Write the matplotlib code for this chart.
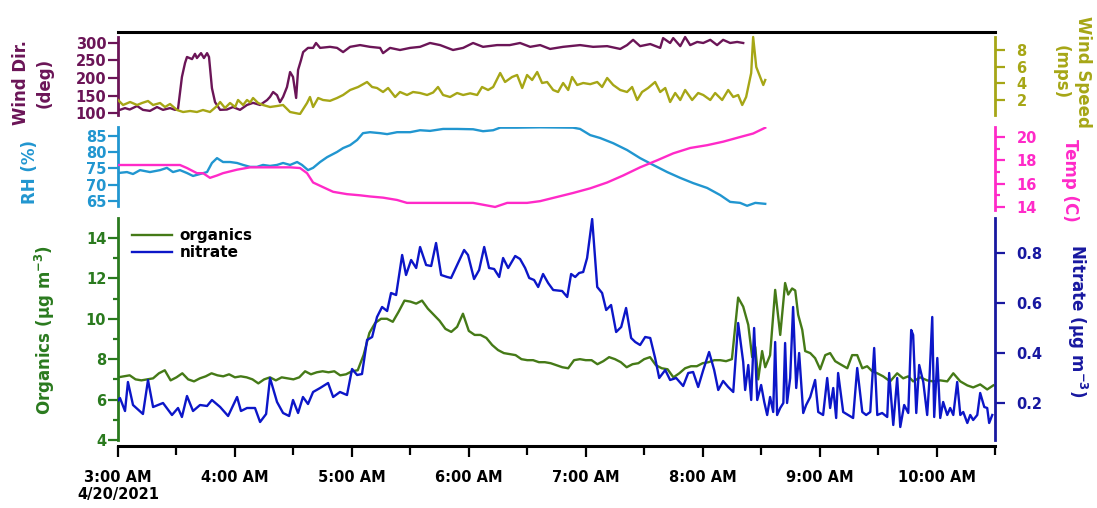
import numpy as np
import matplotlib
matplotlib.use('Agg')
import matplotlib.pyplot as plt
from matplotlib.ticker import MultipleLocator, FixedLocator

plt.rcParams['font.family'] = ['DejaVu Sans']
plt.rcParams['font.weight'] = 'bold'
plt.rcParams['mathtext.default'] = 'bf'

#######################
# data, time in minutes after 3:00 AM on 4/20/2021
#######################

# wind direction (deg)
wind_dir = [(0, 110), (1, 109), (3.6, 114), (6, 110), (9.8, 120), (12.8, 109), (16.4, 106), (20, 117),
            (23.1, 109), (26.7, 114), (29.3, 109), (30.8, 112), (32.8, 203), (34.4, 243), (35.4, 260),
            (38, 254), (39.5, 269), (40.5, 257), (42.6, 271), (44.1, 257), (45.7, 271), (46.7, 260),
            (48.2, 171), (49.8, 131), (52.4, 109), (55.9, 110), (59, 117), (62.6, 109), (66.2, 123),
            (69.3, 129), (72.9, 123), (76.5, 137), (78, 146), (79.6, 160), (81.6, 151), (83.1, 131),
            (84.7, 146), (86.7, 174), (88.3, 217), (89.8, 203), (91.4, 143), (92.4, 223), (93.9, 251),
            (95, 274), (97.5, 286), (100.1, 286), (101.6, 300), (103.7, 286), (108.8, 289), (112.4, 286),
            (115.5, 274), (119.1, 289), (124.2, 294), (129.3, 289), (134.5, 286), (136, 271), (139.6, 286),
            (144.7, 280), (149.9, 286), (155, 289), (160.1, 300), (165.3, 294), (171.9, 280), (177.1, 286),
            (182.2, 300), (187.3, 289), (194.5, 294), (201, 294), (206.3, 300), (211.5, 289), (216.6, 294),
            (221.7, 283), (228.4, 289), (237.1, 294), (243.8, 289), (251, 291), (257.7, 283), (261.2, 294),
            (264.3, 309), (267.9, 291), (273.1, 297), (278.2, 286), (279.7, 314), (283.3, 300), (284.9, 314),
            (288.5, 291), (291, 317), (293.6, 294), (297.2, 303), (300.3, 300), (303.9, 309), (307.4, 294),
            (310.5, 309), (314.1, 300), (317.7, 303), (320.8, 300)]

# wind speed (mps)
wind_spd = [(0, 2.0), (2.6, 1.4), (6.2, 1.76), (9.8, 1.4), (12.3, 1.64), (15.4, 1.88), (18, 1.4), (21.6, 1.64),
            (24.1, 1.16), (26.7, 1.52), (30.3, 0.8), (33.4, 0.56), (37, 0.68), (40.5, 0.56), (43.6, 0.8),
            (47.2, 0.56), (50.8, 1.28), (52.4, 1.76), (54.9, 1.04), (57.5, 1.64), (60.1, 1.16), (61.6, 2.0),
            (64.2, 1.4), (66.2, 2.0), (67.8, 1.7), (69.3, 2.24), (71.9, 1.64), (74.4, 1.4), (78, 1.16),
            (81.6, 1.28), (84.7, 1.4), (88.3, 0.56), (93.4, 0.32), (97, 1.64), (98.5, 2.36), (100.1, 1.16),
            (102.7, 2.24), (105.2, 2.0), (108.8, 1.9), (112.4, 2.24), (115.5, 2.6), (119.1, 3.2), (123.2, 3.56),
            (127.8, 4.16), (130.4, 3.56), (132.9, 3.44), (136, 2.96), (138.6, 3.44), (142.2, 2.36), (144.7, 2.96),
            (148.3, 2.6), (151.4, 2.96), (155, 2.84), (158.6, 2.6), (161.7, 2.9), (164.2, 3.56), (166.8, 2.6),
            (170.4, 2.36), (174, 2.84), (177.1, 2.6), (180.7, 2.8), (184.3, 2.6), (186.8, 3.56), (189.9, 3.2),
            (192.5, 3.56), (196.1, 5.24), (198.6, 4.16), (202.2, 4.76), (204.8, 5.0), (207.4, 3.44), (209.9, 5.0),
            (212.5, 4.4), (215.1, 5.36), (217.6, 4.04), (220.2, 4.16), (223.3, 3.2), (225.8, 2.96), (228.4, 4.04),
            (231, 3.2), (233, 4.76), (235.6, 3.8), (238.7, 4.04), (242.3, 3.9), (245.9, 4.16), (248.4, 3.56),
            (251, 4.64), (254.1, 3.8), (257.7, 3.2), (261.2, 2.96), (263.8, 3.56), (266.4, 2.0), (268.9, 2.96),
            (272, 3.44), (275.6, 4.16), (278.2, 2.96), (280.8, 3.44), (283.3, 1.76), (285.9, 2.84), (288.5, 2.0),
            (291, 3.2), (294.6, 2.0), (297.7, 2.84), (300.3, 2.6), (303.9, 2.0), (306.4, 2.84), (310, 2.0),
            (313.1, 3.2), (315.7, 2.36), (318.2, 2.6), (320.3, 1.4), (322.3, 2.36), (324.9, 5.24), (325.9, 9.56),
            (327.5, 5.96), (329.5, 4.76), (331.1, 3.8), (332.1, 4.4)]

# relative humidity (%)
rh = [(0, 73.6), (4.6, 73.9), (7.7, 73.3), (11.3, 74.5), (16.4, 73.9), (21.6, 74.5), (25.1, 75.2), (28.2, 73.9),
      (31.8, 74.5), (35.4, 73.6), (38.5, 72.7), (42.1, 73.3), (45.7, 73.9), (48.2, 76.7), (50.8, 78.2),
      (53.9, 77.0), (57.5, 77.0), (61.1, 76.7), (64.2, 76.1), (67.8, 75.5), (71.3, 75.5), (74.4, 76.1),
      (78, 75.8), (81.6, 76.1), (84.7, 76.7), (88.3, 76.1), (91.9, 77.0), (94.4, 76.1), (97.5, 74.5),
      (100.1, 75.2), (103.7, 77.0), (107.3, 78.5), (112.4, 80.1), (115.5, 81.3), (119.1, 82.2), (122.7, 83.8),
      (125.7, 85.9), (129.3, 86.2), (134.5, 85.9), (138.1, 85.6), (143.2, 86.2), (149.9, 86.2), (155, 86.8),
      (160.1, 86.6), (166.8, 87.2), (174, 87.2), (182.2, 87.1), (187.3, 86.5), (192.5, 86.8), (196.1, 87.6),
      (204.8, 87.6), (216.6, 87.7), (233.5, 87.6), (237.1, 87.2), (242.3, 85.3), (247.4, 84.4), (254.1, 82.8),
      (261.2, 80.7), (267.9, 78.2), (274.6, 76.1), (281.8, 73.9), (288.5, 72.1), (295.1, 70.5), (302.3, 69.0),
      (309, 66.8), (314.1, 64.7), (319.2, 64.4), (322.8, 63.5), (327, 64.4), (332.1, 64.1)]

# temperature (C)
temp = [(0, 17.6), (12.8, 17.6), (31.8, 17.6), (35.4, 17.34), (40.5, 16.9), (43.6, 16.9), (47.2, 16.5),
        (50.8, 16.7), (53.9, 16.9), (61.1, 17.2), (67.8, 17.4), (74.4, 17.4), (81.6, 17.4), (88.3, 17.4),
        (93.4, 17.34), (97, 16.9), (100.1, 16.1), (105.2, 15.7), (110.4, 15.3), (117.5, 15.1), (124.2, 15.0),
        (129.3, 14.9), (136, 14.8), (143.2, 14.6), (148.3, 14.35), (158.6, 14.35), (169.4, 14.35),
        (182.2, 14.35), (193.5, 14.0), (199.7, 14.35), (209.9, 14.35), (216.6, 14.5), (225.3, 14.86),
        (233.5, 15.2), (242.3, 15.6), (251, 16.1), (259.2, 16.7), (267.9, 17.4), (276.6, 18.0), (284.9, 18.6),
        (293.6, 19.06), (302.3, 19.3), (310.5, 19.6), (319.2, 20.0), (325.9, 20.3), (332.1, 20.8)]

# organics (ug m-3), 3 min steps up to 8:15 then read point by point
org_t = list(range(0, 316, 3)) + [
    318.2, 320.8, 323.4, 325.4, 327.0, 328.5, 330.5, 332.1, 334.6, 337.2,
    339.8, 342.3, 343.9, 345.9, 347.5, 349.0, 351.1, 352.6, 355.2, 357.7,
    360.3, 362.9, 365.4, 368.0, 370.6, 374.2, 376.7, 379.3, 381.9, 384.4,
    387.0, 389.6, 392.6, 396.2, 399.8, 402.9, 405.5, 408.0, 411.6, 415.2,
    418.3, 421.9, 425.5, 428.6, 432.2, 435.8, 438.8, 442.4, 446.0, 449.1]
org_val = [
    7.1, 7.15, 7.2, 7.0, 6.95, 7.0, 7.05, 7.3, 7.45, 6.95,
    7.1, 7.3, 7.0, 6.9, 7.05, 7.15, 7.3, 7.2, 7.15, 7.25,
    7.1, 7.15, 7.1, 7.0, 6.8, 7.0, 7.1, 6.95, 7.1, 7.05,
    7.0, 7.1, 7.4, 7.25, 7.35, 7.4, 7.35, 7.4, 7.2, 7.25,
    7.4,
    7.45, 8.2, 9.3, 9.8, 10.0, 10.0, 9.85, 10.35, 10.9, 10.85,
    10.75, 10.9, 10.5, 10.2, 9.9, 9.5, 9.35, 9.6, 10.25, 9.4,
    9.2, 9.2, 9.05, 8.7, 8.45, 8.3, 8.25, 8.2, 8.0, 7.95,
    7.95, 7.85, 7.85, 7.8, 7.7, 7.6, 7.55, 7.95, 8.0, 7.95,
    7.95, 7.75, 7.9, 8.1, 8.0, 7.85, 7.6, 7.75, 7.8, 8.0,
    8.1, 7.7, 7.55, 7.5, 7.1, 7.3, 7.55, 7.65, 7.65, 7.8,
    7.85, 7.95, 7.95, 7.9, 8.0,
    11.05, 10.6, 9.7, 8.1, 8.6, 7.0, 8.4, 7.6, 8.2, 11.43,
    9.2, 11.77, 11.2, 11.5, 11.4, 10.2, 9.45, 8.4, 8.3, 8.05,
    7.5, 8.2, 8.3, 7.9, 7.75, 7.55, 8.2, 8.2, 7.55, 7.65,
    7.4, 7.3, 7.15, 6.9, 7.3, 7.05, 7.15, 6.9, 7.1, 6.95,
    6.9, 6.95, 6.9, 7.3, 6.9, 6.7, 6.6, 6.75, 6.5, 6.7]

# nitrate (ug m-3)
nitrate = [(0, 0.21), (1.0, 0.22), (3.6, 0.168), (5.1, 0.284), (7.7, 0.192), (12.8, 0.156), (15.4, 0.292),
           (18.0, 0.184), (23.1, 0.20), (27.7, 0.152), (30.8, 0.18), (32.8, 0.144), (35.4, 0.228),
           (38.5, 0.168), (42.1, 0.192), (45.7, 0.188), (48.2, 0.212), (52.4, 0.184), (56.5, 0.148),
           (61.1, 0.224), (63.1, 0.168), (66.2, 0.18), (70.3, 0.18), (72.9, 0.124), (76.0, 0.156), (78.0, 0.30),
           (81.6, 0.204), (84.7, 0.16), (87.8, 0.148), (89.8, 0.212), (92.4, 0.16), (94.9, 0.224), (97.5, 0.196),
           (100.1, 0.244), (103.7, 0.26), (107.8, 0.28), (110.4, 0.224), (113.9, 0.244), (117.5, 0.232),
           (120.1, 0.336), (122.7, 0.312), (125.2, 0.316), (127.8, 0.452), (130.4, 0.464), (132.9, 0.544),
           (135.5, 0.584), (138.1, 0.568), (140.1, 0.64), (142.7, 0.632), (145.8, 0.792), (147.8, 0.712),
           (150.4, 0.772), (153.0, 0.74), (155.0, 0.824), (158.1, 0.752), (160.7, 0.748), (163.2, 0.84),
           (165.8, 0.712), (168.9, 0.704), (170.9, 0.70), (174.0, 0.752), (177.6, 0.812), (179.6, 0.792),
           (182.7, 0.696), (185.3, 0.732), (187.9, 0.824), (190.4, 0.74), (193.0, 0.736), (195.6, 0.704),
           (197.6, 0.78), (200.2, 0.74), (203.8, 0.788), (206.3, 0.776), (208.9, 0.74), (211.0, 0.70),
           (213.5, 0.692), (215.6, 0.664), (218.1, 0.716), (220.7, 0.68), (223.3, 0.652), (227.9, 0.648),
           (230.5, 0.624), (232.5, 0.716), (234.6, 0.704), (236.6, 0.72), (238.7, 0.724), (240.7, 0.78),
           (243.3, 0.936), (245.9, 0.664), (248.4, 0.64), (250.5, 0.572), (253.0, 0.592), (255.6, 0.484),
           (258.2, 0.504), (260.7, 0.58), (263.3, 0.46), (265.4, 0.444), (267.9, 0.432), (270.5, 0.464),
           (273.1, 0.46), (275.6, 0.38), (277.7, 0.30), (280.8, 0.332), (283.3, 0.292), (286.4, 0.30),
           (290.0, 0.268), (292.6, 0.32), (295.1, 0.324), (297.7, 0.264), (300.3, 0.332), (303.3, 0.404),
           (305.9, 0.332), (308.0, 0.252), (310.5, 0.288), (313.1, 0.264), (315.7, 0.244), (318.2, 0.52),
           (320.8, 0.364), (321.8, 0.252), (323.4, 0.352), (324.9, 0.212), (326.4, 0.50), (328.0, 0.212),
           (330.0, 0.272), (331.6, 0.204), (333.1, 0.152), (334.6, 0.224), (336.2, 0.164), (337.2, 0.444),
           (338.2, 0.152), (339.8, 0.18), (341.4, 0.20), (342.3, 0.44), (343.3, 0.20), (344.9, 0.30),
           (346.4, 0.584), (348.0, 0.26), (349.5, 0.40), (351.6, 0.16), (353.1, 0.192), (355.2, 0.224),
           (357.7, 0.292), (359.3, 0.164), (361.8, 0.152), (363.9, 0.30), (365.4, 0.18), (367.0, 0.26),
           (368.5, 0.14), (369.5, 0.32), (372.1, 0.164), (374.7, 0.152), (377.2, 0.14), (379.3, 0.34),
           (381.9, 0.164), (383.9, 0.152), (386.0, 0.164), (388.0, 0.42), (389.6, 0.152), (392.1, 0.16),
           (394.7, 0.144), (395.7, 0.32), (397.8, 0.112), (399.8, 0.30), (401.4, 0.104), (403.4, 0.192),
           (405.5, 0.16), (407.0, 0.492), (408.0, 0.472), (409.6, 0.16), (411.1, 0.352), (413.2, 0.284),
           (415.2, 0.152), (416.3, 0.284), (417.8, 0.544), (418.8, 0.144), (420.4, 0.38), (421.9, 0.14),
           (423.4, 0.204), (425.5, 0.152), (427.0, 0.18), (428.6, 0.152), (430.6, 0.284), (432.2, 0.152),
           (433.7, 0.164), (435.8, 0.12), (437.3, 0.152), (438.8, 0.132), (440.9, 0.152), (442.4, 0.24),
           (444.5, 0.184), (446.0, 0.18), (447.0, 0.12), (448.6, 0.152)]

hour_ticks = [0, 60, 120, 180, 240, 300, 360, 420]
hour_labels = ['3:00 AM\n4/20/2021', '4:00 AM', '5:00 AM', '6:00 AM', '7:00 AM', '8:00 AM', '9:00 AM', '10:00 AM']

# colours
c_wd = '#6b1557'
c_ws = '#a6a616'
c_rh = '#2196d0'
c_temp = '#ff2ac8'
c_org = '#457a17'
c_orgax = '#2a7a1e'
c_no3 = '#0c16c8'
c_no3ax = '#1818a0'

W, H = 1097, 508
fig = plt.figure(figsize=(W / 100, H / 100), dpi=100)
x0, x1 = 118, 995


def panel(top, bottom):
    ax = fig.add_axes([x0 / W, 1 - bottom / H, (x1 - x0) / W, (bottom - top) / H])
    ax.patch.set_visible(False)
    return ax


def only_spine(ax, side, color, lw=2.0, bounds=None):
    for s in ax.spines.values():
        s.set_visible(False)
    sp = ax.spines[side]
    sp.set_visible(True)
    sp.set_color(color)
    sp.set_linewidth(lw)
    if bounds is not None:
        sp.set_bounds(*bounds)


ax_wd = panel(32, 115)
ax_ws = ax_wd.twinx()
ax_rh = panel(127, 210)
ax_t = ax_rh.twinx()
ax_org = panel(218, 446)
ax_no3 = ax_org.twinx()

for ax in [ax_wd, ax_rh, ax_org]:
    ax.set_xlim(0, 450)

# top panel: wind
t, v = zip(*wind_dir)
ax_wd.plot(t, v, color=c_wd, lw=1.7)
t, v = zip(*wind_spd)
ax_ws.plot(t, v, color=c_ws, lw=1.7)
ax_wd.set_ylim(94.3, 331.4)
ax_ws.set_ylim(0.2, 10.16)
only_spine(ax_wd, 'left', c_wd, bounds=(95, 317))
ax_wd.spines['top'].set_visible(True)
ax_wd.spines['top'].set_color('black')
ax_wd.spines['top'].set_linewidth(2.2)
only_spine(ax_ws, 'right', c_ws, bounds=(0.2, 9.6))
ax_wd.yaxis.set_major_locator(MultipleLocator(50))
ax_ws.yaxis.set_major_locator(FixedLocator([2, 4, 6, 8]))

# middle panel: RH and temperature
t, v = zip(*rh)
ax_rh.plot(t, v, color=c_rh, lw=1.7)
t, v = zip(*temp)
ax_t.plot(t, v, color=c_temp, lw=1.7)
ax_rh.set_ylim(62.2, 87.8)
ax_t.set_ylim(13.74, 20.86)
only_spine(ax_rh, 'left', c_rh, bounds=(63.5, 87.8))
only_spine(ax_t, 'right', c_temp)
ax_rh.yaxis.set_major_locator(MultipleLocator(5))
ax_t.yaxis.set_major_locator(MultipleLocator(2))
ax_t.yaxis.set_minor_locator(MultipleLocator(1))

for ax in [ax_wd, ax_rh]:
    ax.tick_params(axis='x', which='both', bottom=False, top=False, labelbottom=False)

# bottom panel: organics and nitrate
l1, = ax_org.plot(org_t, org_val, color=c_org, lw=1.7, label='organics')
t, v = zip(*nitrate)
l2, = ax_no3.plot(t, v, color=c_no3, lw=1.7, label='nitrate')
ax_org.set_ylim(3.7, 14.99)
ax_no3.set_ylim(0.028, 0.94)
only_spine(ax_org, 'left', c_orgax, bounds=(4, 15))
ax_org.spines['bottom'].set_visible(True)
ax_org.spines['bottom'].set_color('black')
ax_org.spines['bottom'].set_linewidth(2.2)
only_spine(ax_no3, 'right', c_no3ax, bounds=(0.052, 0.94))
ax_org.yaxis.set_major_locator(MultipleLocator(2))
ax_org.yaxis.set_minor_locator(MultipleLocator(1))
ax_no3.yaxis.set_major_locator(FixedLocator([0.2, 0.4, 0.6, 0.8]))

ax_org.set_xticks(hour_ticks)
ax_org.set_xticklabels(hour_labels)
ax_org.xaxis.set_minor_locator(FixedLocator(np.arange(30, 451, 60)))
ax_org.tick_params(axis='x', which='major', direction='out', length=8, width=1.6,
                   pad=9, labelsize=10.5, colors='black')
ax_org.tick_params(axis='x', which='minor', direction='out', length=6.5, width=1.6)

# y tick styles
for ax, c in [(ax_wd, c_wd), (ax_rh, c_rh), (ax_org, c_orgax)]:
    ax.tick_params(axis='y', which='major', direction='out', length=7.5, width=1.6,
                   pad=1, labelsize=10.5, colors=c)
    ax.tick_params(axis='y', which='minor', direction='out', length=3.5, width=1.6, colors=c)
for ax, c in [(ax_ws, c_ws), (ax_t, c_temp), (ax_no3, c_no3ax)]:
    ax.tick_params(axis='y', which='major', direction='out', length=7.5, width=1.6,
                   pad=8, labelsize=10.5, colors=c)
    ax.tick_params(axis='y', which='minor', direction='out', length=3.5, width=1.6, colors=c)

# axis titles
fig.text(33 / W, 1 - 83 / H, 'Wind Dir.\n(deg)', color=c_wd, fontsize=12, rotation=90,
         ha='center', va='center', linespacing=1.4, multialignment='center')
fig.text(30 / W, 1 - 172 / H, 'RH (%)', color=c_rh, fontsize=12, rotation=90,
         ha='center', va='center')
fig.text(45 / W, 1 - 330 / H, 'Organics (µg m$^{-3}$)', color=c_orgax, fontsize=12,
         rotation=90, ha='center', va='center')
fig.text(1072 / W, 1 - 72 / H, 'Wind Speed\n(mps)', color=c_ws, fontsize=12, rotation=-90,
         ha='center', va='center', linespacing=1.3, multialignment='center')
fig.text(1070 / W, 1 - 180 / H, 'Temp (C)', color=c_temp, fontsize=12, rotation=-90,
         ha='center', va='center')
fig.text(1077 / W, 1 - 321 / H, 'Nitrate (µg m$^{-3}$)', color=c_no3ax, fontsize=12,
         rotation=-90, ha='center', va='center')

leg = ax_no3.legend([l1, l2], ['organics', 'nitrate'], loc='upper left',
                    bbox_to_anchor=(132 / W, 1 - 228 / H), bbox_transform=fig.transFigure,
                    frameon=False, fontsize=11, handlelength=2.6, handletextpad=0.5,
                    labelspacing=0.15, borderpad=0, borderaxespad=0)

fig.savefig('out.png', dpi=100)
